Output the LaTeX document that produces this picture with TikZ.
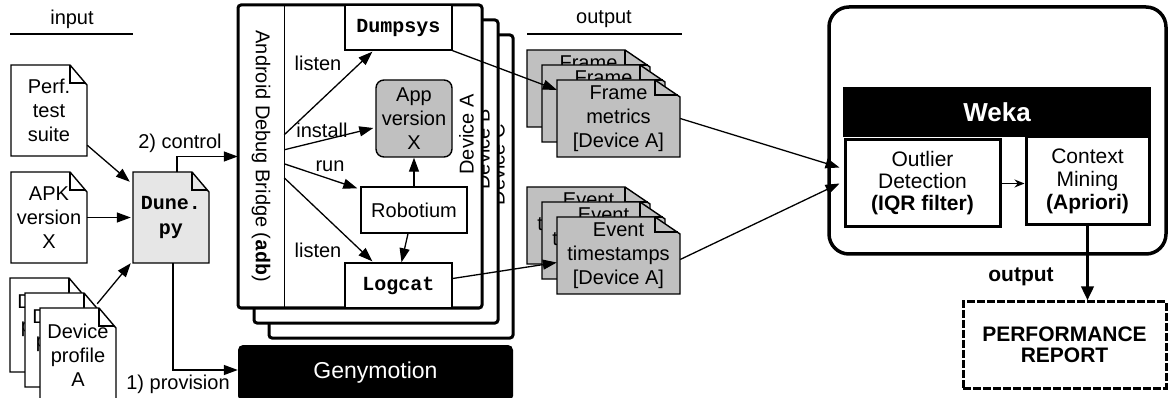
\documentclass[tikz,border=0pt]{standalone}
\usepackage{fontspec}
\setmainfont{Liberation Sans}
\setmonofont{Liberation Mono}
\usetikzlibrary{arrows.meta,calc}
\definecolor{docgray}{HTML}{C0C0C0}
\definecolor{dunegray}{HTML}{E6E6E6}
\newcommand\fsn{\fontsize{20}{24}\selectfont}
\newcommand\codett[1]{{\ttfamily\bfseries #1}}
\newcommand\mydoc[9]{%
  \filldraw[docline, fill=#8] (#2,#3) -- ({#4-#6},#3) -- (#4,{#3+#7}) -- (#4,#5) -- (#2,#5) -- cycle;
  \draw[docline] ({#4-#6},#3) -- ({#4-#6},{#3+#7-2}) -- ({#4-2},{#3+#7-2});
  \node[doctext, minimum width={(#4-#2)*1pt}, minimum height={(#5-#3)*1pt}] (#1) at ({(#2+#4)/2},{(#3+#5)/2}) {#9};
}
\begin{document}
\begin{tikzpicture}[x=1pt,y=-1pt,
  docline/.style={line width=1.4pt, line join=miter},
  doctext/.style={inner sep=0pt, align=center, font=\fsn},
  box/.style={draw, line width=1.4pt, fill=white, inner sep=0pt, align=center, font=\fsn},
  devbox/.style={draw, line width=3pt, fill=white, rounded corners=3pt, inner sep=0pt, minimum width=244pt, minimum height=303pt},
  devlbl/.style={font=\fsn, rotate=90, inner sep=0pt},
  arr/.style={line width=1.3pt, -{Triangle[length=14pt,width=10pt]}},
  lbl/.style={font=\fsn, inner sep=1pt},
]
\clip (0,0) rectangle (1168,398);
\fill[white] (0,0) rectangle (1168,398);

% headers
\node[lbl] (inhead) at (72,19) {input};
\draw[line width=2pt] (10,34) -- (133,34);
\node[lbl] (outhead) at (604,19) {output};
\draw[line width=2pt] (527,34) -- (682,34);

% input documents
\mydoc{perf}{11}{65}{87}{156}{17}{20}{white}{Perf.\\test\\suite}
\mydoc{apk}{11}{172}{87}{263}{17}{20}{white}{APK\\version\\X}
\mydoc{dpa}{10}{278}{86}{372}{17}{20}{white}{Device\\profile\\C}
\mydoc{dpb}{25}{293}{101}{387}{17}{20}{white}{Device\\profile\\B}
\mydoc{dpc}{40}{308}{116}{402}{17}{20}{white}{Device\\profile\\A}
\mydoc{dune}{133}{172}{209}{263}{17}{20}{dunegray}{\codett{Dune.}\\[1pt]\codett{py}}

% devices
\node[devbox] (devC) at (391,186.5) {};
\node[devlbl] (devClbl) at ($(devC.north east)+(-17,131)$) {Device C};
\node[devbox] (devB) at (376,171.5) {};
\node[devlbl] (devBlbl) at ($(devB.north east)+(-17,131)$) {Device B};
\node[devbox] (devA) at (360,156.5) {};
\node[devlbl] (devAlbl) at ($(devA.north east)+(-17,131)$) {Device A};

\node[inner sep=0pt, minimum width=46pt, minimum height=303pt] (adb) at (261,156.5) {};
\draw[line width=1.4pt] (adb.north east) -- (adb.south east);
\node[lbl, rotate=-90] (adblbl) at (adb.center) {Android Debug Bridge (\codett{adb})};

\node[box, minimum width=107pt, minimum height=45pt] (dumpsys) at (398.5,27.5) {\codett{Dumpsys}};
\node[box, fill=docgray, rounded corners=8pt, minimum width=76pt, minimum height=77pt] (app) at (414,118.5) {App\\version\\X};
\node[box, minimum width=106pt, minimum height=46pt] (robot) at (414,210) {Robotium};
\node[box, minimum width=107pt, minimum height=45pt] (logcat) at (398.5,285.5) {\codett{Logcat}};

\node[fill=black, rounded corners=5pt, minimum width=275pt, minimum height=56pt, text=white, font=\fontsize{23}{27}\selectfont] (geny) at (375.5,373) {Genymotion};

% output documents
\mydoc{f1}{527}{50}{650}{127}{25}{17}{docgray}{Frame\\metrics\\{[Device C]}}
\mydoc{f2}{542}{65}{665}{142}{25}{17}{docgray}{Frame\\metrics\\{[Device B]}}
\mydoc{f3}{557}{80}{680}{157}{25}{17}{docgray}{Frame\\metrics\\{[Device A]}}
\mydoc{e1}{527}{187}{650}{264}{25}{17}{docgray}{Event\\timestamps\\{[Device C]}}
\mydoc{e2}{542}{202}{665}{279}{25}{17}{docgray}{Event\\timestamps\\{[Device B]}}
\mydoc{e3}{557}{217}{680}{294}{25}{17}{docgray}{Event\\timestamps\\{[Device A]}}

% Weka
\node[draw, line width=3.5pt, rounded corners=20pt, minimum width=337pt, minimum height=247pt] (weka) at (997.5,130.5) {};
\node[fill=black, minimum width=308pt, minimum height=50pt, text=white, font=\bfseries\fontsize{26}{30}\selectfont] (wekabar) at (997,112) {Weka};
\node[box, line width=3pt, minimum width=155pt, minimum height=87pt, font=\fontsize{21}{22}\selectfont] (outlier) at (922.5,183.5) {Outlier\\Detection\\\textbf{(IQR filter)}};
\node[box, line width=3pt, minimum width=123pt, minimum height=88pt, font=\fontsize{21}{23}\selectfont] (context) at (1087.5,181) {Context\\Mining\\\textbf{(Apriori)}};
\node[draw, line width=3pt, dash pattern=on 8pt off 2pt, minimum width=203pt, minimum height=86pt, font=\bfseries\fontsize{21}{21}\selectfont, align=center] (report) at (1064.5,345) {PERFORMANCE\\REPORT};

% labels
\node[lbl] (ctrl) at (180,143) {2) control};
\node[lbl] (prov) at (178,384) {1) provision};
\node[lbl] (l1) at (318,63) {listen};
\node[lbl] (l2) at (322,130) {install};
\node[lbl] (l3) at (330,166) {run};
\node[lbl] (l4) at (318,250) {listen};
\node[font=\bfseries\fontsize{21}{21}\selectfont] (outlbl) at (1021,277) {output};

% connectors
\draw[arr] ($(perf.south east)+(0,-11)$) -- ($(dune.north west)+(-3,10)$);
\draw[arr] (apk.east) -- ($(apk.east -| dune.west)+(-2,0)$);
\draw[arr] ($(dpb.north east)+(-4,11)$) -- ($(dune.south west)+(-2,0)$);
\draw[arr] ($(dune.north)+(6,0)$) |- (adb.west);
\draw[arr] ($(dune.south)+(2,0)$) |- ($(geny.west)+(0,-3)$);

\draw[arr] ($(adb.north east)+(0,130)$) -- ($(dumpsys.south west)+(28,1)$);
\draw[arr] ($(adb.north east)+(0,145)$) -- ($(app.west)+(-2,9.5)$);
\draw[arr] ($(adb.north east)+(0,159)$) -- ($(robot.north west)+(-3,2)$);
\draw[arr] ($(adb.north east)+(0,173)$) -- ($(logcat.north west)+(28,-1)$);
\draw[arr] (robot.north) -- (app.south);
\draw[arr] ($(robot.south)+(-6,0)$) -- ($(logcat.north)+(3,0)$);

\draw[arr] (dumpsys.south east) -- ($(f3.north west)+(0,10)$);
\draw[arr] ($(logcat.east)+(0,-7)$) -- ($(e3.west)+(0,7)$);
\draw[arr] (f3.east) -- ($(outlier.west)+(-4,-16)$);
\draw[arr] ($(e3.east)+(0,4)$) -- ($(outlier.west)+(-4,0)$);
\draw[line width=1.5pt, -{Stealth[length=10pt,width=8pt]}] (outlier.east) -- (outlier.east -| context.west);
\draw[line width=3.5pt, -{Triangle[length=14pt,width=12pt]}] (context.south) -- (context.south |- report.north);
\end{tikzpicture}
\end{document}
